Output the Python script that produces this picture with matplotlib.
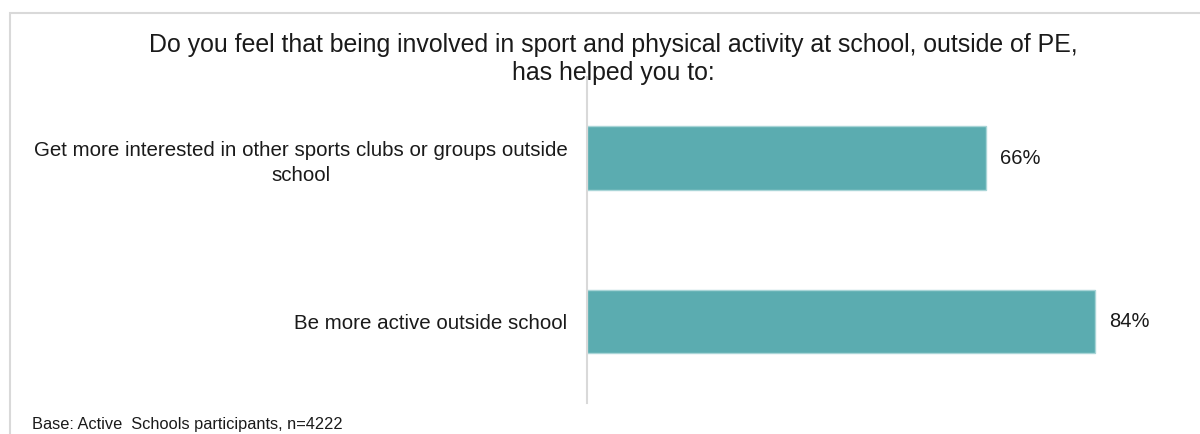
import numpy as np
import matplotlib.pyplot as plt
from matplotlib.patches import Rectangle

plt.rcParams['font.family'] = ['Liberation Sans', 'DejaVu Sans']

categories = ["Get more interested in other sports clubs or groups outside\nschool",
              "Be more active outside school"]
values = [66, 84]
title = "Do you feel that being involved in sport and physical activity at school, outside of PE,\nhas helped you to:"
base_note = "Base: Active  Schools participants, n=4222"


def main():
    fig = plt.figure(facecolor='w', figsize=(12, 4.34), dpi=100)

    # light grey frame round the whole chart
    fig.patches.append(Rectangle((10 / 1200, -0.1), 1.2, 1 - 13 / 434 + 0.1,
                                 transform=fig.transFigure, fill=False,
                                 edgecolor='#d9d9d9', linewidth=1.5))

    ax = fig.add_axes([587 / 1200, 0.0714, 0.504, 0.752])
    y = np.arange(len(categories))
    bars = ax.barh(y, values, height=0.39, color='#5BACB0',
                   edgecolor='#a9d5d7', linewidth=1)
    ax.set_xlim(0, 100)
    ax.set_ylim(-0.5, 1.5)
    ax.invert_yaxis()

    for b, v in zip(bars, values):
        ax.text(b.get_width() + 2.3, b.get_y() + b.get_height() / 2, "%d%%" % v,
                va='center', ha='left', fontsize=14.5, color='#1a1a1a')

    ax.set_yticks(y)
    ax.set_yticklabels(categories, fontsize=14.8, color='#1a1a1a',
                       multialignment='center', linespacing=1.4)
    ax.tick_params(axis='y', length=0, pad=14)
    ax.set_xticks([])
    for s in ['top', 'right', 'bottom']:
        ax.spines[s].set_visible(False)
    ax.spines['left'].set_color('#d9d9d9')
    ax.spines['left'].set_linewidth(1.5)

    fig.text(613 / 1200, 1 - 59 / 434, title, ha='center', va='center',
             fontsize=17.9, color='#1a1a1a', linespacing=1.25)
    fig.text(32 / 1200, 1 - 424 / 434, base_note, ha='left', va='center',
             fontsize=11.8, color='#1a1a1a')

    plt.savefig("out.png", dpi=100, transparent=False)
    plt.close('all')


if __name__ == '__main__':
    main()
